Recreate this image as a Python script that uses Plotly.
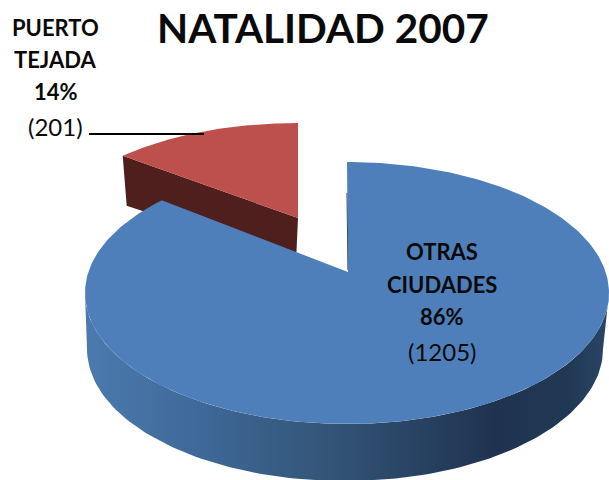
import numpy as np
import plotly.graph_objects as go

TITLE = "NATALIDAD 2007"
names = ["PUERTO<br>TEJADA", "OTRAS<br>CIUDADES"]
values = [201, 1205]
percents = ["14%", "86%"]

FONT = "Lato, Carlito, Calibri, sans-serif"
BLUE = "#4f7fbb"
RED = "#bd504d"
RED_DARK = "#4f1f1e"
WALL_STOPS = [[0, "#4c7aaf"], [0.2, "#3f6a9a"], [0.45, "#345679"],
              [0.78, "#1f3350"], [0.92, "#213854"], [1, "#2a4565"]]

# the tilted pie, in pixels of the 609x480 page
BLUE_ELLIPSE = (347, 293, 262, 131)
BLUE_FLOOR = (345, 349, 258, 132)
BLUE_APEX = (348, 272)
RED_ELLIPSE = (298, 235, 248, 112)
RED_APEX = (298, 218)
FORESHORTEN = 0.874  # angles look narrower at the back of the tilted disc


def arc(ellipse, start, end, n=120):
    cx, cy, rx, ry = ellipse
    t = np.radians(np.linspace(start, end, n))
    return cx + rx * np.sin(t), cy - ry * np.cos(t)


def add_poly(fig, x, y, color=None, **kwargs):
    fig.add_trace(go.Scatter(x=list(x), y=list(y), mode="lines", fill="toself", fillcolor=color,
                             line=dict(width=0), hoverinfo="skip", showlegend=False, **kwargs))


sweep = 360 * values[0] / sum(values) * FORESHORTEN

fig = go.Figure()

# red slice, wall first
corner_x, corner_y = arc(RED_ELLIPSE, -sweep, -sweep, 1)
add_poly(fig, [corner_x[0], RED_APEX[0], RED_APEX[0] - 2, corner_x[0] + 4],
         [corner_y[0], RED_APEX[1], RED_APEX[1] + 44, corner_y[0] + 50], RED_DARK)
rx, ry = arc(RED_ELLIPSE, -sweep, 0)
add_poly(fig, [RED_APEX[0], *rx], [RED_APEX[1], *ry], RED)

# blue outer wall with the left to right shading
tx, ty = arc(BLUE_ELLIPSE, 270, 90)
fx, fy = arc(BLUE_FLOOR, 90, 270)
add_poly(fig, [*tx, *fx], [*ty, *fy],
         fillgradient=dict(type="horizontal", colorscale=WALL_STOPS, start=85, stop=609))

# sliver of the cut wall beside the gap
fig.add_trace(go.Scatter(x=[BLUE_APEX[0] - 1, BLUE_APEX[0]], y=[193, BLUE_APEX[1] - 2], mode="lines",
                         line=dict(color="#1f3350", width=1), hoverinfo="skip", showlegend=False))

bx, by = arc(BLUE_ELLIPSE, 0, 360 - sweep, 300)
add_poly(fig, [BLUE_APEX[0], *bx], [BLUE_APEX[1], *by], BLUE)

fig.add_shape(type="line", x0=89, x1=204, y0=134, y1=134, line=dict(color="black", width=2))


def label(x, y, text, size=22, bold=True):
    fig.add_annotation(x=x, y=y, text=f"<b>{text}</b>" if bold else text, showarrow=False,
                       font=dict(family=FONT, size=size, color="#0a0a0a"))


label(322.5, 27, TITLE, size=40.5)
for (x, ys), name, pct, val in zip([(55.5, (27, 59, 91, 126)), (442, (251, 284, 316, 351))],
                                   names, percents, values):
    first, second = name.split("<br>")
    label(x, ys[0], first)
    label(x, ys[1], second)
    label(x, ys[2], pct)
    label(x, ys[3], f"({val})", size=24, bold=False)

fig.update_xaxes(range=[0, 609], visible=False, fixedrange=True)
fig.update_yaxes(range=[480, 0], visible=False, fixedrange=True)
fig.update_layout(width=609, height=480, margin=dict(l=0, r=0, t=0, b=0),
                  paper_bgcolor="white", plot_bgcolor="white")

fig.write_html("out.html", config=dict(displayModeBar=False),
               post_script="document.body.style.margin='0';")
